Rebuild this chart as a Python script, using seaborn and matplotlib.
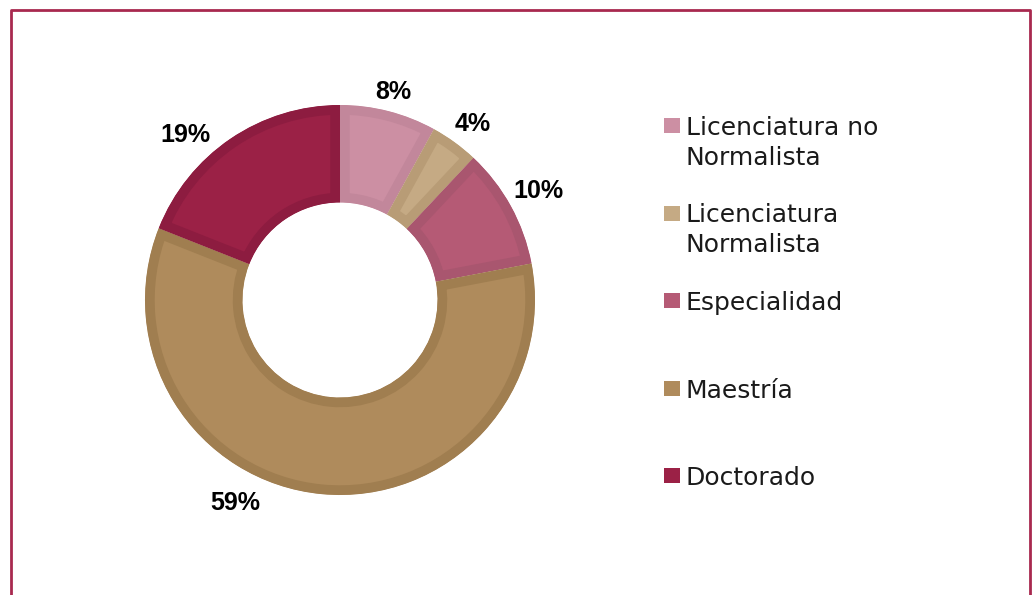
import numpy as np
import matplotlib
matplotlib.use("Agg")
import matplotlib.pyplot as plt
import seaborn as sns
from matplotlib.lines import Line2D
from matplotlib.patches import Rectangle

# data
categories = ["Licenciatura no\nNormalista", "Licenciatura\nNormalista", "Especialidad",
              "Maestría", "Doctorado"]
shares = [8, 4, 10, 59, 19]
pct_labels = ["8%", "4%", "10%", "59%", "19%"]

face_colors = ["#CC8FA3", "#C5AA84", "#B55A75", "#AF8B5C", "#9B2146"]
edge_colors = ["#C2879B", "#B89C76", "#A9566F", "#A07E50", "#8D1C40"]
# small angular nudge per label (degrees), the 59% label sits off-centre
label_shift = [0, -1, 0, -22, 9]
label_r = [1.10, 1.13, 1.16, 1.17, 1.16]

W, H = 1032, 595
sns.set_style("white")
plt.rcParams["font.family"] = ["DejaVu Sans"]

fig = plt.figure(figsize=(W / 100, H / 100), dpi=100)

# pie axes: centre (340, 300) px, radius 195 px
cx, cy, R = 340, 300, 195
half = 230
ax = fig.add_axes([(cx - half) / W, (H - cy - half) / H, 2 * half / W, 2 * half / H])
lim = half / R

wedges, _ = ax.pie(shares, colors=face_colors, startangle=90, counterclock=False,
                   radius=1.0, wedgeprops=dict(width=0.5, linewidth=14),
                   normalize=True)
for w, ec in zip(wedges, edge_colors):
    w.set_edgecolor(ec)
    w.set_clip_on(True)
    w.set_clip_path(w)  # keep the stroke inside each wedge

for w, lab, sh, r in zip(wedges, pct_labels, label_shift, label_r):
    ang = np.deg2rad((w.theta1 + w.theta2) / 2 + sh)
    ax.text(r * np.cos(ang), r * np.sin(ang), lab, ha="center", va="center",
            fontsize=18, fontweight="bold", family="Liberation Sans", color="black")
ax.set_xlim(-lim, lim)
ax.set_ylim(-lim, lim)
ax.set_aspect("equal")
ax.axis("off")

# legend drawn by hand so every entry takes the same slot
leg_x, sq_w, sq_h = 664, 16, 15
first_base, step = 135, 87.5
for i, (lab, col) in enumerate(zip(categories, face_colors)):
    base = first_base + i * step
    fig.patches.append(Rectangle((leg_x / W, (H - base + 2) / H), sq_w / W, sq_h / H,
                                 transform=fig.transFigure, facecolor=col, edgecolor="none"))
    for k, line in enumerate(lab.split("\n")):
        fig.text((leg_x + 22) / W, (H - base - k * 30) / H, line, ha="left", va="baseline",
                 fontsize=18, color="#1a1a1a")

# frame around the chart (bottom edge falls outside the crop)
bx0, by0, bx1 = 11, 10, 1030
fig.add_artist(Line2D([bx0 / W, bx0 / W, bx1 / W, bx1 / W], [0, 1 - by0 / H, 1 - by0 / H, 0],
                      transform=fig.transFigure, color="#A8294F", linewidth=2))

fig.savefig("out.png", dpi=100, facecolor="white")
